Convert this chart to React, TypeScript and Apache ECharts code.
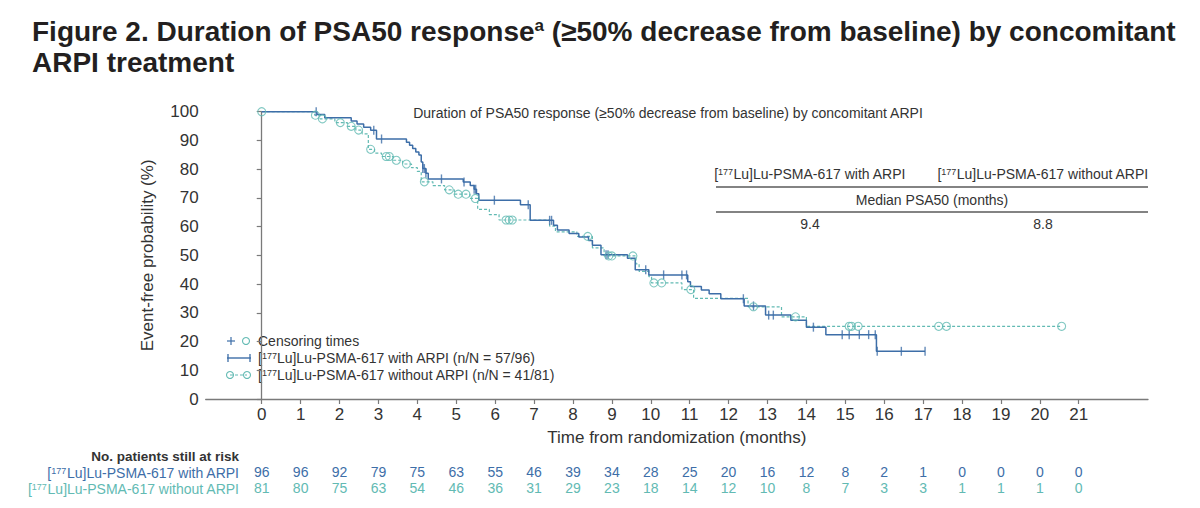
import React, { useEffect, useRef } from "react";
import * as echarts from "echarts";

const FONT = "'Liberation Sans', Arial, Helvetica, sans-serif";
const BLUE = "#3d6ea8";
const TEAL = "#62bab3";
const AXIS = "#7a7a7a";
const INK = "#333333";
const TITLE_INK = "#231f20";

// Axis ticks
const monthTicks = [0, 1, 2, 3, 4, 5, 6, 7, 8, 9, 10, 11, 12, 13, 14, 15, 16, 17, 18, 19, 20, 21];

// Kaplan–Meier steps: [177Lu]Lu-PSMA-617 with ARPI
const arpiTimes = [0, 1.42, 1.62, 2.3, 2.45, 2.62, 2.8, 2.95, 3.72, 3.8, 3.88, 3.96, 4.04, 4.1, 4.14, 4.22, 4.28, 5.18, 5.36, 5.46, 5.52, 5.58, 6.65, 6.9, 7.5, 7.6, 7.9, 8.15, 8.4, 8.5, 8.72, 9.4, 9.6, 9.95, 10.95, 11.02, 11.3, 11.5, 11.8, 12.4, 12.95, 13.6, 14.0, 14.5, 15.8, 17.05];
const arpiSurv = [100, 99.0, 97.9, 96.8, 95.7, 94.6, 93.5, 90.5, 89.4, 88.3, 87.2, 86.0, 84.9, 82.5, 80.2, 78.6, 76.6, 75.5, 74.3, 73.0, 71.4, 69.2, 67.6, 62.2, 60.5, 58.8, 57.6, 56.4, 55.2, 53.5, 50.2, 49.0, 45.0, 43.2, 40.8, 39.2, 37.9, 36.6, 34.9, 32.4, 29.2, 27.4, 25.0, 22.4, 16.6, 16.6];
const arpiCensored = [1.4, 2.88, 3.08, 4.14, 4.18, 4.22, 4.62, 5.2, 5.46, 5.5, 5.98, 6.85, 7.4, 7.45, 8.85, 8.9, 9.87, 10.33, 10.8, 10.92, 12.38, 12.64, 13.03, 13.15, 14.18, 14.92, 15.1, 15.36, 15.6, 15.77, 15.82, 16.44, 17.05];

// Kaplan–Meier steps: [177Lu]Lu-PSMA-617 without ARPI
const noArpiTimes = [0, 1.36, 1.5, 1.88, 2.2, 2.42, 2.58, 2.74, 2.9, 3.08, 3.38, 3.62, 3.85, 4.0, 4.1, 4.4, 4.7, 4.95, 5.35, 5.55, 5.85, 6.1, 7.4, 7.55, 8.1, 8.5, 8.8, 9.62, 9.7, 9.95, 10.02, 10.8, 11.1, 12.5, 13.36, 14.0, 20.56];
const noArpiSurv = [100, 98.8, 97.5, 96.2, 94.9, 93.6, 92.3, 86.9, 85.6, 84.4, 83.1, 81.8, 80.5, 79.2, 75.6, 74.3, 72.8, 71.3, 69.8, 66.0, 64.2, 62.3, 60.2, 58.2, 56.6, 52.6, 49.8, 47.0, 44.4, 42.6, 40.4, 38.1, 35.0, 32.1, 28.6, 25.3, 25.3];
const noArpiCensored = [0, 1.38, 1.56, 2.02, 2.3, 2.49, 2.8, 3.2, 3.28, 3.46, 3.72, 4.18, 4.82, 5.05, 5.25, 5.49, 6.28, 6.36, 6.44, 8.38, 8.92, 9.0, 9.54, 10.08, 10.28, 11.03, 12.64, 13.72, 15.1, 15.16, 15.33, 17.4, 17.6, 20.56];

// Numbers at risk at each month
const atRiskArpi = [96, 96, 92, 79, 75, 63, 55, 46, 39, 34, 28, 25, 20, 16, 12, 8, 2, 1, 0, 0, 0, 0];
const atRiskNoArpi = [81, 80, 75, 63, 54, 46, 36, 31, 29, 23, 18, 14, 12, 10, 8, 7, 3, 3, 1, 1, 1, 0];

// Summary figures
const groupLabels = ["with ARPI", "without ARPI"];
const eventsN = [57, 41];
const totalN = [96, 81];
const medianPSA50 = [9.4, 8.8];

const zip = (t: number[], s: number[]) => t.map((v, i) => [v, s[i]]);
const levelAt = (t: number[], s: number[], x: number) => {
  let v = s[0];
  for (let i = 0; i < t.length; i++) if (t[i] <= x + 1e-9) v = s[i];
  return v;
};

const supRich = (color: string, size = 9) => ({
  s: { fontSize: size, fontFamily: FONT, fill: color, verticalAlign: "top" },
});
const drug = (label: string) => `[{s|177}Lu]Lu-PSMA-617 ${label}`;

const text = (x: number, y: number, t: string, extra: Record<string, unknown> = {}) => ({
  type: "text",
  x,
  y,
  silent: true,
  style: {
    text: t,
    fill: INK,
    fontSize: 14,
    fontFamily: FONT,
    align: "left",
    verticalAlign: "middle",
    ...extra,
  },
});

const line = (x1: number, y1: number, x2: number, y2: number, stroke: string, lineWidth = 1.3, lineDash?: number[]) => ({
  type: "line",
  silent: true,
  shape: { x1, y1, x2, y2 },
  style: { stroke, lineWidth, lineDash },
});

const ring = (cx: number, cy: number, stroke: string) => ({
  type: "circle",
  silent: true,
  shape: { cx, cy, r: 3.5 },
  style: { fill: "none", stroke, lineWidth: 1.1 },
});

const X_MIN = -1.44;
const X_MAX = 22.78;
const LEGEND_TEXT_X = 258;

const buildOption = () => {
  const graphic: any[] = [
    // Figure title
    text(32, 31, "Figure 2. Duration of PSA50 response{s|a} (≥50% decrease from baseline) by concomitant", {
      fontSize: 28,
      fontWeight: "bold",
      fill: TITLE_INK,
      rich: { s: { fontSize: 17, fontWeight: "bold", fontFamily: FONT, fill: TITLE_INK, verticalAlign: "top" } },
    }),
    text(32, 62, "ARPI treatment", { fontSize: 28, fontWeight: "bold", fill: TITLE_INK }),
    // Panel heading
    text(668, 113, "Duration of PSA50 response (≥50% decrease from baseline) by concomitant ARPI", { align: "center" }),
    // Median table
    text(810, 174, drug(groupLabels[0]), { align: "center", rich: supRich(INK) }),
    text(1043, 174, drug(groupLabels[1]), { align: "center", rich: supRich(INK) }),
    line(716, 187, 1148, 187, "#5a5a5a", 1.5),
    text(932, 200, "Median PSA50 (months)", { align: "center" }),
    line(716, 212, 1148, 212, "#5a5a5a", 1.5),
    text(810, 224, medianPSA50[0].toFixed(1), { align: "center" }),
    text(1043, 224, medianPSA50[1].toFixed(1), { align: "center" }),
    // Legend
    line(227, 341, 235, 341, BLUE, 1.2),
    line(231, 337, 231, 345, BLUE, 1.2),
    ring(246, 341, TEAL),
    text(LEGEND_TEXT_X, 341, "Censoring times"),
    line(227, 358, 251, 358, BLUE, 1.4),
    line(228, 354, 228, 362, BLUE, 1.3),
    line(250, 354, 250, 362, BLUE, 1.3),
    text(LEGEND_TEXT_X, 358, `${drug(groupLabels[0])} (n/N = ${eventsN[0]}/${totalN[0]})`, { rich: supRich(INK) }),
    line(230, 375, 247, 375, TEAL, 1.1, [3, 2]),
    ring(230, 375, TEAL),
    ring(247, 375, TEAL),
    text(LEGEND_TEXT_X, 375, `${drug(groupLabels[1])} (n/N = ${eventsN[1]}/${totalN[1]})`, { rich: supRich(INK) }),
    // Numbers at risk labels
    text(239, 456, "No. patients still at risk", { align: "right", fontWeight: "bold", fontSize: 13.5 }),
    text(239, 473, drug(groupLabels[0]), { align: "right", fill: BLUE, rich: supRich(BLUE) }),
    text(239, 489, drug(groupLabels[1]), { align: "right", fill: TEAL, rich: supRich(TEAL) }),
  ];

  const riskAxis = (values: number[], color: string, offset: number) => ({
    type: "value",
    min: X_MIN,
    max: X_MAX,
    position: "bottom",
    offset,
    axisLine: { show: false },
    axisTick: { show: false },
    splitLine: { show: false },
    axisLabel: {
      customValues: monthTicks,
      margin: 8,
      color,
      fontSize: 14,
      fontFamily: FONT,
      formatter: (v: number) => {
        const i = monthTicks.indexOf(Math.round(v));
        return i >= 0 ? String(values[i]) : "";
      },
    },
  });

  return {
    animation: false,
    textStyle: { fontFamily: FONT },
    grid: { left: 205.7, right: 52, top: 111.7, bottom: 109, containLabel: false },
    xAxis: [
      {
        type: "value",
        min: X_MIN,
        max: X_MAX,
        name: "Time from randomization (months)",
        nameLocation: "middle",
        nameGap: 30,
        nameTextStyle: { fontSize: 17, color: INK, fontFamily: FONT },
        axisLine: { show: true, lineStyle: { color: AXIS, width: 1.3 } },
        axisTick: { show: true, customValues: monthTicks, length: 5, lineStyle: { color: AXIS, width: 1.2 } },
        axisLabel: { customValues: monthTicks, margin: 7, fontSize: 17, color: INK, fontFamily: FONT },
        splitLine: { show: false },
      },
      riskAxis(atRiskArpi, BLUE, 58),
      riskAxis(atRiskNoArpi, TEAL, 74),
    ],
    yAxis: {
      type: "value",
      min: 0,
      max: 100,
      interval: 10,
      name: "Event-free probability (%)",
      nameLocation: "middle",
      nameRotate: 90,
      nameGap: 50,
      nameTextStyle: { fontSize: 17, color: INK, fontFamily: FONT },
      axisLine: { show: true, lineStyle: { color: AXIS, width: 1.3 } },
      axisTick: { show: true, length: 5, lineStyle: { color: AXIS, width: 1.2 } },
      axisLabel: { margin: 7, fontSize: 17, color: INK, fontFamily: FONT },
      splitLine: { show: false },
    },
    series: [
      {
        type: "line",
        name: "with ARPI",
        step: "end",
        showSymbol: false,
        symbol: "none",
        silent: true,
        lineStyle: { color: BLUE, width: 1.5 },
        data: zip(arpiTimes, arpiSurv),
        z: 3,
      },
      {
        type: "line",
        name: "without ARPI",
        step: "end",
        showSymbol: false,
        symbol: "none",
        silent: true,
        lineStyle: { color: TEAL, width: 1.2, type: [3, 2] },
        data: zip(noArpiTimes, noArpiSurv),
        z: 2,
      },
      {
        type: "scatter",
        name: "with ARPI censored",
        silent: true,
        symbol: "rect",
        symbolSize: [1.4, 9],
        itemStyle: { color: BLUE },
        data: arpiCensored.map((t) => [t, levelAt(arpiTimes, arpiSurv, t)]),
        z: 4,
      },
      {
        type: "scatter",
        name: "without ARPI censored",
        silent: true,
        symbol: "circle",
        symbolSize: 8,
        itemStyle: { color: "rgba(255,255,255,0)", borderColor: TEAL, borderWidth: 1.1 },
        data: noArpiCensored.map((t) => [t, levelAt(noArpiTimes, noArpiSurv, t)]),
        z: 4,
      },
    ],
    graphic,
  };
};

export default function App() {
  const ref = useRef<HTMLDivElement>(null);
  useEffect(() => {
    document.body.style.margin = "0";
    const chart = echarts.init(ref.current as HTMLDivElement, undefined, { renderer: "svg" });
    chart.setOption(buildOption() as any);
    return () => chart.dispose();
  }, []);
  return <div ref={ref} style={{ width: 1200, height: 508, background: "#ffffff" }} />;
}
